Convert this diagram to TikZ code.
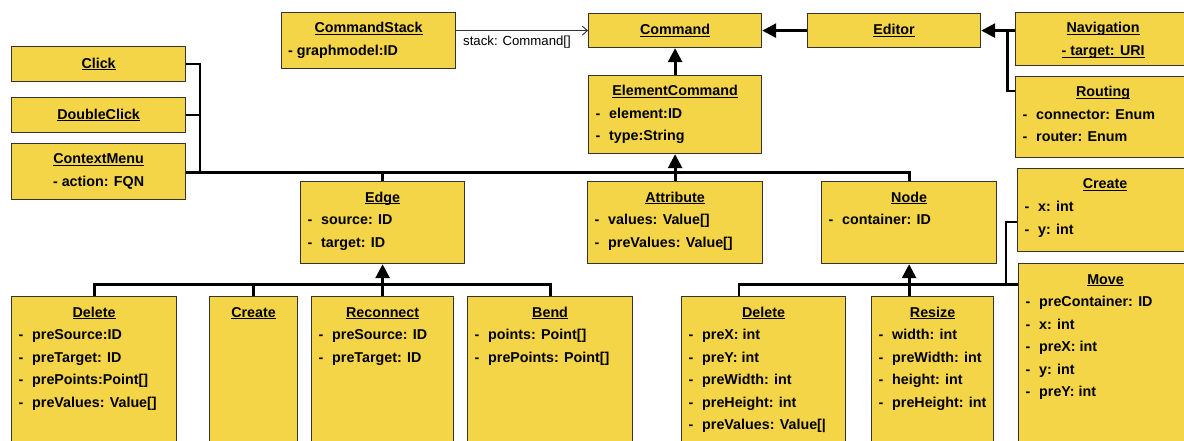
\documentclass[tikz,border=0pt]{standalone}
\usepackage{fontspec}
\setmainfont{Liberation Sans}
\usetikzlibrary{arrows.meta,calc}
\definecolor{boxfill}{HTML}{F4D547}
\definecolor{boxline}{HTML}{333333}
\newcommand\uln[1]{\setbox0\hbox{#1}\rlap{\rule[-2.0pt]{\wd0}{0.9pt}}\box0}
\newcommand\umlbox[6]{\node[box,anchor=north west,minimum width={(#4)-(#2)},minimum height={(#5)-(#3)}] (#1) at (#2,#3) {#6};}
\newcommand\hdr[2]{\node[txt,anchor=base] (#1-h) at ([yshift=-21pt]#1.north) {\uln{#2}};}
\newcommand\attrline[3]{%
  \node[txt,anchor=base west] (#1-d#2) at ([xshift=7.5pt,yshift={-21pt-#2*22.5pt}]#1.north west) {-};
  \node[txt,anchor=base west] (#1-a#2) at ([xshift=21pt,yshift={-21pt-#2*22.5pt}]#1.north west) {#3};}
\begin{document}
\begin{tikzpicture}[x=1pt,y=-1pt,
  box/.style={draw=boxline,fill=boxfill,line width=1.2pt,inner sep=0pt,
    font=\fontsize{14.3}{17}\selectfont\bfseries},
  txt/.style={inner sep=0pt,font=\fontsize{14.3}{17}\selectfont\bfseries},
  lbl/.style={inner sep=0pt,font=\fontsize{13.2}{16}\selectfont},
  ln/.style={line width=2.8pt,black},
  inh/.style={line width=2.8pt,black,-{Triangle[length=14pt,width=14pt]}},
  assoc/.style={line width=0.9pt,black!80,-{Straight Barb[length=5pt,width=9pt]}}]
\useasboundingbox (0,0) rectangle (1184,441);
\clip (0,0) rectangle (1184,441);
% ---------- boxes ----------
\umlbox{cstack}{281}{12}{455}{68}{}
\umlbox{cmd}{588}{13}{761}{47}{\uln{Command}}
\umlbox{editor}{807}{13}{980}{47}{\uln{Editor}}
\umlbox{nav}{1015}{12}{1190}{65}{}
\umlbox{routing}{1015}{76}{1190}{157}{}
\umlbox{ecmd}{588}{75}{761}{153}{}
\umlbox{click}{11}{46}{185}{81}{\uln{Click}}
\umlbox{dclick}{11}{97}{185}{132}{\uln{DoubleClick}}
\umlbox{cmenu}{11}{143}{185}{199}{}
\umlbox{edge}{300}{181}{464}{263}{}
\umlbox{attr}{587}{181}{762}{263}{}
\umlbox{node}{821}{181}{996}{263}{}
\umlbox{ncreate}{1017}{168}{1192}{251}{}
\umlbox{move}{1018}{263}{1192}{470}{}
\umlbox{edel}{11}{296}{176}{470}{}
\umlbox{ecreate}{209}{296}{297}{470}{}
\umlbox{reconn}{311}{296}{453}{470}{}
\umlbox{bend}{467}{296}{632}{470}{}
\umlbox{ndel}{681}{296}{845}{470}{}
\umlbox{resize}{871}{296}{993}{470}{}
% ---------- texts ----------
\hdr{cstack}{CommandStack}
\node[txt,anchor=base west] (cstack-a1) at ([xshift=7pt,yshift=-43.5pt]cstack.north west) {- graphmodel:ID};
\hdr{nav}{Navigation}
\node[txt,anchor=base] (nav-a1) at ([yshift=-43.5pt]nav.north) {\uln{- target: URI}};
\hdr{routing}{Routing}
\attrline{routing}{1}{connector: Enum}
\attrline{routing}{2}{router: Enum}
\hdr{ecmd}{ElementCommand}
\attrline{ecmd}{1}{element:ID}
\attrline{ecmd}{2}{type:String}
\hdr{cmenu}{ContextMenu}
\node[txt,anchor=base] (cmenu-a1) at ([yshift=-43.5pt]cmenu.north) {- action: FQN};
\hdr{edge}{Edge}
\attrline{edge}{1}{source: ID}
\attrline{edge}{2}{target: ID}
\hdr{attr}{Attribute}
\attrline{attr}{1}{values: Value[]}
\attrline{attr}{2}{preValues: Value[]}
\hdr{node}{Node}
\attrline{node}{1}{container: ID}
\hdr{ncreate}{Create}
\attrline{ncreate}{1}{x: int}
\attrline{ncreate}{2}{y: int}
\hdr{move}{Move}
\attrline{move}{1}{preContainer: ID}
\attrline{move}{2}{x: int}
\attrline{move}{3}{preX: int}
\attrline{move}{4}{y: int}
\attrline{move}{5}{preY: int}
\hdr{edel}{Delete}
\attrline{edel}{1}{preSource:ID}
\attrline{edel}{2}{preTarget: ID}
\attrline{edel}{3}{prePoints:Point[]}
\attrline{edel}{4}{preValues: Value[]}
\hdr{ecreate}{Create}
\hdr{reconn}{Reconnect}
\attrline{reconn}{1}{preSource: ID}
\attrline{reconn}{2}{preTarget: ID}
\hdr{bend}{Bend}
\attrline{bend}{1}{points: Point[]}
\attrline{bend}{2}{prePoints: Point[]}
\hdr{ndel}{Delete}
\attrline{ndel}{1}{preX: int}
\attrline{ndel}{2}{preY: int}
\attrline{ndel}{3}{preWidth: int}
\attrline{ndel}{4}{preHeight: int}
\attrline{ndel}{5}{preValues: Value[|}
\hdr{resize}{Resize}
\attrline{resize}{1}{width: int}
\attrline{resize}{2}{preWidth: int}
\attrline{resize}{3}{height: int}
\attrline{resize}{4}{preHeight: int}
% ---------- connectors ----------
\coordinate (bus) at (200,172.5);
\coordinate (ebus) at (0,284.5);
\coordinate (navj) at ([xshift=26pt]editor.east);
\coordinate (ncj) at (1006,284.5);
\draw[assoc] (cstack.east |- cmd.west) -- (cmd.west);
\node[lbl,anchor=base west] (stacklbl) at (463,46) {stack: Command[]};
\draw[inh] (editor.west) -- (cmd.east);
\draw[inh] (ecmd.north) -- (cmd.south);
\draw[inh] (nav.west |- editor.east) -- (editor.east);
\draw[ln] ([yshift=-15pt]routing.north west) -| (navj);
\draw[ln] (click.east) -| (bus);
\draw[ln] (dclick.east) -- (dclick.east -| bus);
\draw[ln] (cmenu.east |- bus) -- (node.north |- bus) -- (node.north);
\draw[ln] (edge.north) -- (edge.north |- bus);
\draw[inh] (attr.north) -- (ecmd.south);
\draw[ln] (edel.north) |- (bend.north |- ebus) -- (bend.north);
\draw[ln] (ecreate.north) -- (ecreate.north |- ebus);
\draw[inh] (reconn.north) -- (edge.south);
\draw[ln] ([xshift=58pt]ndel.north west) |- (move.west |- ebus);
\draw[inh] (node.south |- resize.north) -- (node.south);
\draw[ln] ([yshift=-54pt]ncreate.north west) -| (ncj);
\end{tikzpicture}
\end{document}
